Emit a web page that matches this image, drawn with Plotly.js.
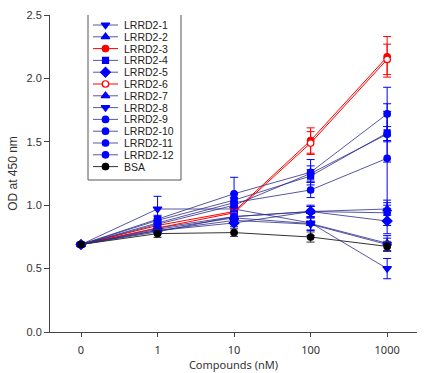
<!DOCTYPE html>
<html><head><meta charset="utf-8">
<script src="https://cdn.plot.ly/plotly-3.0.1.min.js"></script>
<style>html,body{margin:0;padding:0;background:#fff;}#chart{width:425px;height:373px;}</style>
</head><body><div id="chart"></div>
<script>
// ---- data ----
const xTickLabels = ["0", "1", "10", "100", "1000"];
const xIndex = [0, 1, 2, 3, 4];
const seriesNames = ["LRRD2-1","LRRD2-2","LRRD2-3","LRRD2-4","LRRD2-5","LRRD2-6","LRRD2-7","LRRD2-8","LRRD2-9","LRRD2-10","LRRD2-11","LRRD2-12","BSA"];
const lrrd2_1  = [0.69, 0.97, 0.97, 0.86, 0.50];
const lrrd2_2  = [0.69, 0.82, 0.91, 0.95, 0.97];
const lrrd2_3  = [0.69, 0.84, 0.95, 1.51, 2.17];
const lrrd2_4  = [0.69, 0.88, 1.04, 1.23, 1.57];
const lrrd2_5  = [0.69, 0.80, 0.86, 0.95, 0.875];
const lrrd2_6  = [0.69, 0.82, 0.94, 1.49, 2.15];
const lrrd2_7  = [0.69, 0.81, 0.90, 0.855, 0.70];
const lrrd2_8  = [0.69, 0.80, 0.88, 0.85, 0.69];
const lrrd2_9  = [0.69, 0.89, 1.09, 1.26, 1.72];
const lrrd2_10 = [0.69, 0.86, 1.02, 1.12, 1.37];
const lrrd2_11 = [0.69, 0.85, 1.00, 1.25, 1.56];
const lrrd2_12 = [0.69, 0.79, 0.91, 0.95, 0.94];
const bsa      = [0.69, 0.776, 0.784, 0.749, 0.675];
const err_1  = [0, 0.10, 0.06, 0.10, 0.08];
const err_2  = [0, 0.03, 0.03, 0.04, 0.05];
const err_3  = [0, 0.03, 0.03, 0.10, 0.16];
const err_4  = [0, 0.03, 0.05, 0.05, 0.23];
const err_5  = [0, 0.02, 0.03, 0.05, 0.10];
const err_6  = [0, 0.03, 0.03, 0.09, 0.12];
const err_7  = [0, 0.02, 0.03, 0.05, 0.06];
const err_8  = [0, 0.02, 0.03, 0.05, 0.05];
const err_9  = [0, 0.03, 0.13, 0.10, 0.21];
const err_10 = [0, 0.03, 0.04, 0.06, 0.37];
const err_11 = [0, 0.03, 0.05, 0.06, 0.06];
const err_12 = [0, 0.02, 0.03, 0.04, 0.10];
const err_bsa= [0, 0.03, 0.03, 0.04, 0.04];

const seriesValues = [lrrd2_1,lrrd2_2,lrrd2_3,lrrd2_4,lrrd2_5,lrrd2_6,lrrd2_7,lrrd2_8,lrrd2_9,lrrd2_10,lrrd2_11,lrrd2_12,bsa];
const seriesErrors = [err_1,err_2,err_3,err_4,err_5,err_6,err_7,err_8,err_9,err_10,err_11,err_12,err_bsa];

// ---- styles ----
const BLUE = "#0000ff", NAVY = "rgba(45,45,140,0.8)", RED = "#ff0000", BLACK = "#000000";
const styles = [
  {sym:"triangle-down", mc:BLUE, lc:NAVY, fill:BLUE},
  {sym:"triangle-up",   mc:BLUE, lc:NAVY, fill:BLUE},
  {sym:"circle",        mc:RED,  lc:RED,  fill:RED},
  {sym:"square",        mc:BLUE, lc:NAVY, fill:BLUE},
  {sym:"diamond",       mc:BLUE, lc:NAVY, fill:BLUE},
  {sym:"circle",        mc:RED,  lc:RED,  fill:"#ffffff"},
  {sym:"triangle-up",   mc:BLUE, lc:NAVY, fill:BLUE},
  {sym:"triangle-down", mc:BLUE, lc:NAVY, fill:BLUE},
  {sym:"circle",        mc:BLUE, lc:NAVY, fill:BLUE},
  {sym:"circle",        mc:BLUE, lc:NAVY, fill:BLUE},
  {sym:"circle",        mc:BLUE, lc:NAVY, fill:BLUE},
  {sym:"circle",        mc:BLUE, lc:NAVY, fill:BLUE},
  {sym:"circle",        mc:BLACK,lc:"#333333", fill:BLACK}
];
function msize(s){ return s.sym === "circle" ? 6.5 : (s.sym === "square" ? 6 : 7.5); }

const traces = [];
seriesNames.forEach((name, i) => {
  const s = styles[i];
  traces.push({
    type: "scatter", mode: "lines+markers", name: name, x: xIndex, y: seriesValues[i],
    line: {color: s.lc, width: 1},
    marker: {symbol: s.sym, size: msize(s), color: s.fill, line: {color: s.mc, width: 1.2}},
    error_y: {type: "data", array: seriesErrors[i], visible: true, color: s.mc === BLACK ? "#333333" : s.mc, thickness: 1, width: 4},
    showlegend: false, cliponaxis: false
  });
});

// ---- custom compact legend (layout in pixel frame of overlay axes) ----
const legLeft = 88, legRight = 181, legTop = 13, legBottom = 180;
const rowStart = 25, rowStep = 11.8;
const sampleX0 = 93, sampleX1 = 118, textX = 122;
const annotations = [];
seriesNames.forEach((name, i) => {
  const s = styles[i];
  const ry = rowStart + i * rowStep;
  traces.push({type:"scatter", mode:"lines", x:[sampleX0, sampleX1], y:[ry, ry], xaxis:"x2", yaxis:"y2",
    line:{color:s.lc, width:1}, showlegend:false, hoverinfo:"skip"});
  traces.push({type:"scatter", mode:"markers", x:[(sampleX0+sampleX1)/2], y:[ry], xaxis:"x2", yaxis:"y2",
    marker:{symbol:s.sym, size:msize(s), color:s.fill, line:{color:s.mc, width:1.2}}, showlegend:false, hoverinfo:"skip"});
  annotations.push({xref:"x2", yref:"y2", x:textX, y:ry, text:name, showarrow:false, xanchor:"left", yanchor:"middle",
    font:{family:"Liberation Sans, Arial, sans-serif", size:10.5, color:"#222"}});
});

const layout = {
  width: 425, height: 373,
  margin: {l: 50, r: 8, t: 15, b: 41},
  paper_bgcolor: "#fff", plot_bgcolor: "#fff",
  showlegend: false,
  xaxis: {
    range: [-0.405, 4.39], tickvals: xIndex, ticktext: xTickLabels,
    showgrid: false, zeroline: false, showline: true, linecolor: "#444", linewidth: 1,
    ticks: "outside", ticklen: 4, tickcolor: "#444", ticklabelstandoff: 4,
    tickfont: {family: "Noto Sans, Open Sans, sans-serif", size: 11, color: "#333"},
    title: {text: "Compounds (nM)", font: {family: "Noto Sans, Open Sans, sans-serif", size: 11, color: "#333"}, standoff: 1}
  },
  yaxis: {
    range: [0, 2.5], dtick: 0.5, tickformat: ".1f",
    showgrid: false, zeroline: false, showline: true, linecolor: "#444", linewidth: 1,
    ticks: "outside", ticklen: 5, tickcolor: "#444",
    tickfont: {family: "Liberation Sans, Arial, sans-serif", size: 11, color: "#333"},
    title: {text: "OD at 450 nm", font: {family: "Liberation Sans, Arial, sans-serif", size: 12, color: "#333"}, standoff: 6}
  },
  xaxis2: {domain:[0,1], range:[50, 417], visible:false, fixedrange:true, anchor:"y2", overlaying:"x"},
  yaxis2: {domain:[0,1], range:[332, 15], visible:false, fixedrange:true, anchor:"x2", overlaying:"y"},
  shapes: [{type:"rect", xref:"x2", yref:"y2", x0:legLeft, x1:legRight, y0:legTop, y1:legBottom,
    line:{color:"#555", width:1}, fillcolor:"rgba(255,255,255,0)", layer:"below"}],
  annotations: annotations
};

Plotly.newPlot("chart", traces, layout, {displayModeBar: false, staticPlot: true});
</script>
</body></html>
